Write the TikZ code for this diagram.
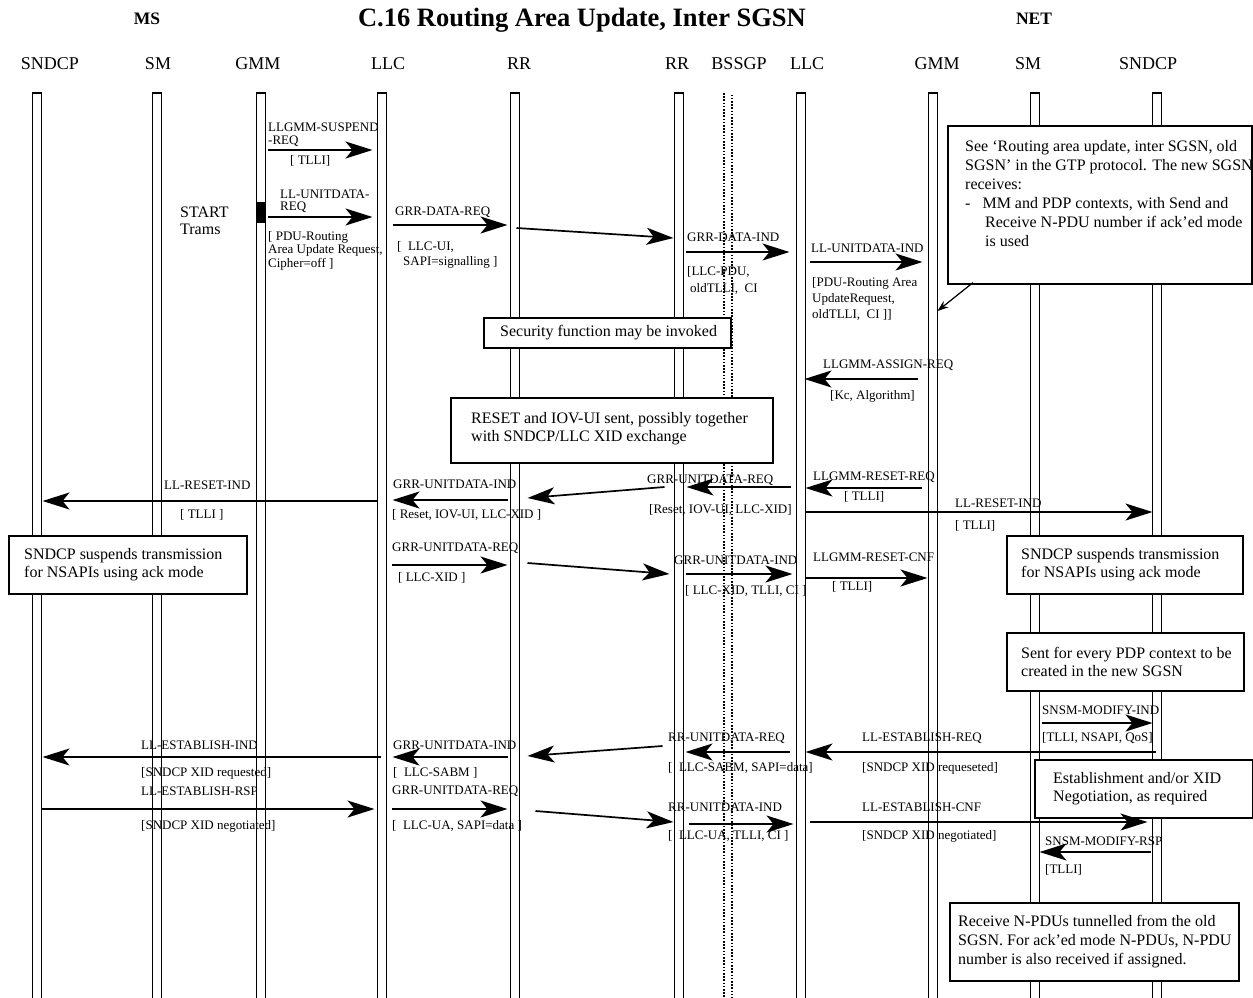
\documentclass[tikz,border=0pt]{standalone}
\usepackage{fontspec}
\setmainfont{Liberation Serif}
\usetikzlibrary{arrows.meta,calc}
\newcounter{lc}
\newcommand\lb[3]{\stepcounter{lc}\node[lab] (lb\thelc) at (#1,#2) {#3};}
\newcommand\mg[6]{\draw[msg] ($(#1|-0,#3)+(#2,0)$) -- ($(#4|-0,#6)+(#5,0)$);}
\tikzset{
  life/.style={draw, line width=1.7pt, minimum width=9pt, minimum height=912pt, inner sep=0pt, outer sep=0pt, anchor=north},
  lifedot/.style={minimum width=8pt, minimum height=912pt, inner sep=0pt, outer sep=0pt, anchor=north},
  dots/.style={line width=1.7pt, dash pattern=on 1.6pt off 1.6pt},
  msg/.style={line width=1.7pt, -{Stealth[length=27pt,width=17pt,inset=7pt]}},
  lab/.style={font=\fontsize{13}{15}\selectfont, inner sep=0pt, anchor=west},
  hdr/.style={font=\fontsize{18}{20}\selectfont, inner sep=0pt},
  box/.style={draw, fill=white, line width=1.6pt, anchor=north west, inner sep=0pt},
  boxtxt/.style={font=\fontsize{16}{18}\selectfont, inner sep=0pt, align=left, anchor=west},
}
\begin{document}
\begin{tikzpicture}[x=1pt,y=-1pt]
\useasboundingbox (0,0) rectangle (1253,997);
% titles
\node[font=\bfseries\fontsize{26.5}{28}\selectfont, inner sep=0pt] (title) at (582,20) {C.16 Routing Area Update, Inter SGSN};
\node[font=\bfseries\fontsize{17.5}{19}\selectfont, inner sep=0pt] (ms) at (147,19) {MS};
\node[font=\bfseries\fontsize{17.5}{19}\selectfont, inner sep=0pt] (net) at (1034,19) {NET};
% headers
\node[hdr] (h1) at (50,64) {SNDCP};
\node[hdr] (h2) at (158,64) {SM};
\node[hdr] (h3) at (258,64) {GMM};
\node[hdr] (h4) at (388,64) {LLC};
\node[hdr] (h5) at (519,64) {RR};
\node[hdr] (h6) at (677,64) {RR};
\node[hdr] (h7) at (739,64) {BSSGP};
\node[hdr] (h8) at (807,64) {LLC};
\node[hdr] (h9) at (937,64) {GMM};
\node[hdr] (h10) at (1028,64) {SM};
\node[hdr] (h11) at (1148,64) {SNDCP};
% lifelines
\node[life] (sndcpA) at (37,93) {};
\node[life] (smA) at (157,93) {};
\node[life] (gmmA) at (261,93) {};
\node[life] (llcA) at (382,93) {};
\node[life] (rrA) at (515,93) {};
\node[life] (rrB) at (679,93) {};
\node[lifedot] (bss) at (728,93) {};
\draw[dots] (bss.north west) -- (bss.south west);
\draw[dots, dash phase=1.6pt] (bss.north east) -- (bss.south east);
\node[life] (llcB) at (801,93) {};
\node[life] (gmmB) at (933,93) {};
\node[life] (smB) at (1035,93) {};
\node[life] (sndcpB) at (1157,93) {};
\fill ($(gmmA.west|-0,202)$) rectangle ($(gmmA.east|-0,223)$);
% ---- labels, upper part
\lb{268}{127}{LLGMM-SUSPEND}
\lb{268}{141}{-REQ}
\lb{290}{161}{[ TLLI]}
\lb{280}{194}{LL-UNITDATA-}
\lb{280}{207}{REQ}
\lb{268}{237}{[ PDU-Routing}
\lb{268}{250}{Area Update Request,}
\lb{268}{264}{Cipher=off ]}
\node[boxtxt] (start) at (180,212) {START};
\node[boxtxt] (trams) at (180,229) {Trams};
\lb{395}{212}{GRR-DATA-REQ}
\lb{397}{247}{[\ \ LLC-UI,}
\lb{403}{262}{SAPI=signalling ]}
\lb{687}{237}{GRR-DATA-IND}
\lb{687}{272}{[LLC-PDU,}
\lb{690}{289}{oldTLLI,\ \ CI}
\lb{811}{248}{LL-UNITDATA-IND}
\lb{812}{283}{[PDU-Routing Area}
\lb{812}{299}{UpdateRequest,}
\lb{812}{315}{oldTLLI,\ \ CI ]]}
\lb{823}{365}{LLGMM-ASSIGN-REQ}
\lb{830}{396}{[Kc, Algorithm]}
% ---- labels, reset part
\lb{164}{485}{LL-RESET-IND}
\lb{180}{515}{[ TLLI ]}
\lb{393}{484}{GRR-UNITDATA-IND}
\lb{392}{515}{[ Reset, IOV-UI, LLC-XID ]}
\lb{647}{480}{GRR-UNITDATA-REQ}
\lb{649}{510}{[Reset, IOV-UI, LLC-XID]}
\lb{813}{477}{LLGMM-RESET-REQ}
\lb{844}{497}{[ TLLI]}
\lb{955}{503}{LL-RESET-IND}
\lb{955}{526}{[ TLLI]}
\lb{392}{548}{GRR-UNITDATA-REQ}
\lb{398}{578}{[ LLC-XID ]}
\lb{674}{560}{GRR-UNITDATA-IND}
\lb{685}{591}{[ LLC-XID, TLLI, CI ]}
\lb{813}{557}{LLGMM-RESET-CNF}
\lb{832}{587}{[ TLLI]}
% ---- labels, establish part
\lb{1042}{710}{SNSM-MODIFY-IND}
\lb{1042}{738}{[TLLI, NSAPI, QoS]}
\lb{862}{738}{LL-ESTABLISH-REQ}
\lb{862}{768}{[SNDCP XID requeseted]}
\lb{668}{738}{RR-UNITDATA-REQ}
\lb{668}{768}{[\ \ LLC-SABM, SAPI=data]}
\lb{393}{745}{GRR-UNITDATA-IND}
\lb{393}{773}{[\ \ LLC-SABM ]}
\lb{141}{745}{LL-ESTABLISH-IND}
\lb{141}{773}{[SNDCP XID requested]}
\lb{141}{791}{LL-ESTABLISH-RSP}
\lb{141}{826}{[SNDCP XID negotiated]}
\lb{392}{791}{GRR-UNITDATA-REQ}
\lb{392}{826}{[\ \ LLC-UA, SAPI=data ]}
\lb{668}{807}{RR-UNITDATA-IND}
\lb{668}{836}{[\ \ LLC-UA, TLLI, CI ]}
\lb{862}{807}{LL-ESTABLISH-CNF}
\lb{862}{836}{[SNDCP XID negotiated]}
\lb{1045}{841}{SNSM-MODIFY-RSP}
\lb{1045}{870}{[TLLI]}
% ---- boxes
\node[box, minimum width=304pt, minimum height=158pt] (noteB) at (947,125) {};
\node[boxtxt, font=\fontsize{16}{19}\selectfont, anchor=north west] (noteT) at (965,140) {See ‘Routing area update, inter SGSN, old\\SGSN’ in the GTP protocol. The new SGSN\\receives:\\-\hspace{12pt}MM and PDP contexts, with Send and\\\hspace{20pt}Receive N-PDU number if ack’ed mode\\\hspace{20pt}is used};
\node[box, minimum width=247pt, minimum height=30pt] (secB) at (483,317) {};
\node[boxtxt] (secT) at ($(secB.west)+(17,0)$) {Security function may be invoked};
\node[box, minimum width=322pt, minimum height=65pt] (resetB) at (450,397) {};
\node[boxtxt] (resetT) at ($(resetB.west)+(21,-2)$) {RESET and IOV-UI sent, possibly together\\with SNDCP/LLC XID exchange};
\node[box, minimum width=238pt, minimum height=58pt] (sndA) at (8,535) {};
\node[boxtxt] (sndAT) at ($(sndA.west)+(16,0)$) {SNDCP suspends transmission\\for NSAPIs using ack mode};
\node[box, minimum width=236pt, minimum height=58pt] (sndB) at (1006,535) {};
\node[boxtxt] (sndBT) at ($(sndB.west)+(15,0)$) {SNDCP suspends transmission\\for NSAPIs using ack mode};
\node[box, minimum width=237pt, minimum height=58pt] (sentB) at (1006,632) {};
\node[boxtxt] (sentT) at ($(sentB.west)+(15,0)$) {Sent for every PDP context to be\\created in the new SGSN};
\node[box, minimum width=218pt, minimum height=58pt] (estB) at (1034,759) {};
\node[boxtxt] (estT) at ($(estB.west)+(19,0)$) {Establishment and/or XID\\Negotiation, as required};
\node[box, minimum width=289pt, minimum height=78pt] (recvB) at (949,902) {};
\node[boxtxt, font=\fontsize{16}{19}\selectfont] (recvT) at ($(recvB.west)+(9,0)$) {Receive N-PDUs tunnelled from the old\\SGSN. For ack’ed mode N-PDUs, N-PDU\\number is also received if assigned.};
% ---- messages, upper part
\mg{gmmA.east}{2}{150}{llcA.west}{-5}{150}
\mg{gmmA.east}{2}{217}{llcA.west}{-5}{217}
\mg{llcA.east}{6}{225}{rrA.west}{-3}{225}
\mg{rrA.east}{-3}{228}{rrB.west}{-1}{238}
\mg{rrB.east}{2}{252}{llcB.west}{-7}{252}
\mg{llcB.east}{4}{262}{gmmB.west}{-6}{262}
\draw[line width=1.2pt, -{Stealth[length=11pt,width=8pt]}] ($(noteB.south west)+(26,-2)$) -- ($(gmmB.east|-0,311)$);
\mg{gmmB.west}{-11}{379}{llcB.east}{-1}{379}
% ---- reset part
\mg{gmmB.west}{-7}{488}{llcB.east}{0}{488}
\mg{llcB.west}{-6}{487}{rrB.east}{3}{487}
\mg{rrB.west}{-10}{487}{rrA.east}{8}{498}
\mg{rrA.west}{-3}{500}{llcA.east}{6}{500}
\mg{llcA.west}{-1}{501}{sndcpA.east}{1}{501}
\mg{llcB.east}{0}{512}{sndcpB.west}{0}{512}
\mg{llcA.east}{5}{565}{rrA.west}{-3}{565}
\mg{rrA.east}{8}{563}{rrB.west}{-5}{574}
\mg{rrB.east}{2}{574}{llcB.west}{-4}{574}
\mg{llcB.east}{0}{578}{gmmB.west}{-1}{578}
% ---- establish part
\mg{smB.east}{2}{723}{sndcpB.west}{0}{723}
\mg{sndcpB.west}{3}{752}{llcB.east}{0}{752}
\mg{llcB.west}{-7}{752}{rrB.east}{2}{752}
\mg{rrB.west}{-12}{746}{rrA.east}{8}{756}
\mg{rrA.west}{-3}{757}{llcA.east}{6}{757}
\mg{llcA.west}{3}{757}{sndcpA.east}{1}{757}
\mg{sndcpA.east}{0}{809}{llcA.west}{-3}{809}
\mg{llcA.east}{5}{809}{rrA.west}{-3}{809}
\mg{rrA.east}{16}{811}{rrB.west}{-1}{822}
\mg{rrB.east}{5}{824}{llcB.west}{-3}{824}
\mg{llcB.east}{4}{822}{sndcpB.west}{-5}{822}
\mg{sndcpB.west}{-2}{852}{smB.east}{0}{852}
\end{tikzpicture}
\end{document}
